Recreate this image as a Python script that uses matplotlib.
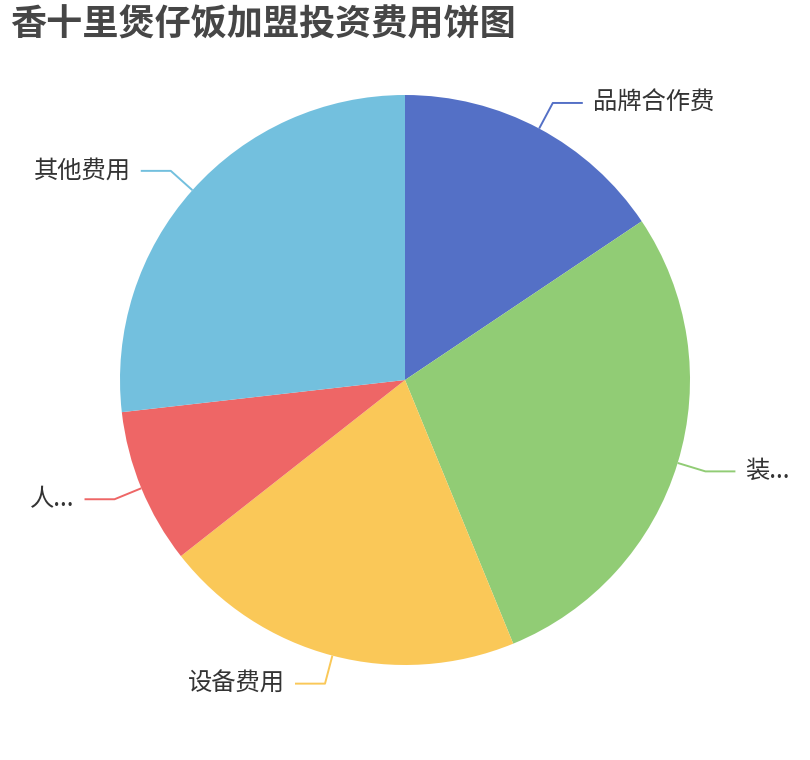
import numpy as np
import matplotlib.pyplot as plt

plt.rcParams['font.family'] = ['Noto Sans CJK SC', 'DejaVu Sans']

labels = ["品牌合作费", "装...", "设备费用", "人...", "其他费用"]
values = [15.6, 28.2, 20.6, 8.8, 26.8]
colors = ["#5470c6", "#91cc75", "#fac858", "#ee6666", "#73c0de"]

W, H = 810, 760
R = 285.0  # pie radius in pixels
fig = plt.figure(figsize=(W / 100, H / 100), dpi=100)
ax = fig.add_axes([0, 0, 1, 1])
ax.axis("off")

wedges, _ = ax.pie(values, colors=colors, startangle=90, counterclock=False,
                   radius=1, wedgeprops=dict(linewidth=0))

# pie() resets the limits, so set them afterwards
ax.set_xlim(-405 / R, (W - 405) / R)
ax.set_ylim(-(H - 380) / R, 380 / R)
ax.set_aspect("equal")

# label lines, echarts style: radial piece then horizontal piece
len1 = 29 / R
len2 = 30 / R
gap = 10 / R
total = sum(values)
start = 0.0
for lab, v, c in zip(labels, values, colors):
    mid = np.deg2rad(start + v / total * 360 / 2)
    start += v / total * 360
    sx, sy = np.sin(mid), np.cos(mid)
    x0, y0 = sx, sy
    x1, y1 = sx * (1 + len1), sy * (1 + len1)
    side = 1 if sx >= 0 else -1
    x2 = x1 + side * len2
    ax.plot([x0, x1, x2], [y0, y1, y1], color=c, lw=1.4, solid_capstyle="butt")
    ax.text(x2 + side * gap, y1, lab, ha="left" if side > 0 else "right",
            va="center", fontsize=17.5, color="#333333")

fig.text(10 / W, 1 - 7 / H, "香十里煲仔饭加盟投资费用饼图", ha="left", va="top",
         fontsize=26, fontweight="bold", color="#464646")

fig.savefig("out.png", dpi=100)
